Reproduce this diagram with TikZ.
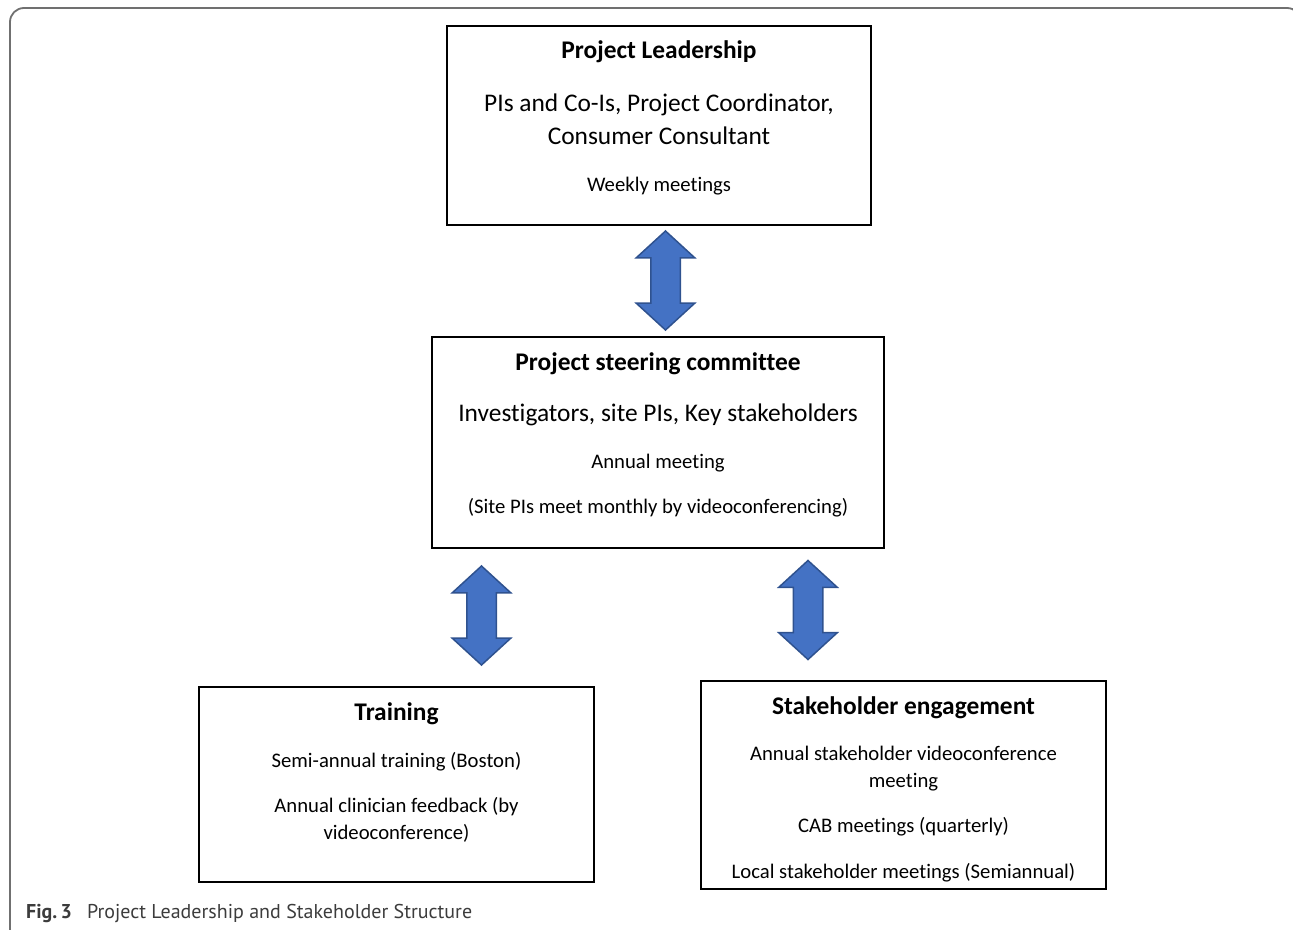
\documentclass[tikz,border=0pt]{standalone}
\usepackage{fontspec}
\setmainfont{Carlito}[Ligatures=NoCommon]
\newfontfamily\capfont{PT Sans}
\usepackage{xcolor}
\usepackage{tikz}
\usetikzlibrary{shapes,arrows,positioning,calc,arrows.meta}

\definecolor{arrowblue}{HTML}{4472C4}
\definecolor{arrowedge}{HTML}{2F528F}
\definecolor{framegray}{HTML}{707070}
\definecolor{capgray}{HTML}{3C3C3C}

\tikzset{
  box/.style={draw=black, line width=1.5pt, fill=none, inner sep=0pt},
  boxtitle/.style={anchor=base, font=\fontsize{25.4}{30}\selectfont\bfseries},
  bigline/.style={anchor=base, font=\fontsize{25.4}{30}\selectfont},
  smallline/.style={anchor=base, font=\fontsize{20.7}{24}\selectfont},
  linkarrow/.style={double arrow, shape border rotate=90, fill=arrowblue, draw=arrowedge,
    line width=1.5pt, inner sep=14pt, minimum height=99pt, minimum width=57pt,
    double arrow head extend=14.5pt, double arrow tip angle=95},
}

\begin{document}
\begin{tikzpicture}[x=1pt, y=-1pt]
  \useasboundingbox (0,0) rectangle (1293,929);
  \draw[framegray, line width=1.8pt, rounded corners=14pt] (10,8) rectangle (1301,943);

  % Boxes
  \node[box, minimum width=424pt, minimum height=199pt] (lead) at (659,125.5) {};
  \node[box, minimum width=452pt, minimum height=211pt] (steer) at (658,442.5) {};
  \node[box, minimum width=395pt, minimum height=195pt] (train) at (396.5,784.5) {};
  \node[box, minimum width=405pt, minimum height=208pt] (stake) at (903.5,785) {};

  \node[boxtitle] (lead-t) at (659,58) {Project Leadership};
  \node[bigline] (lead-a) at (659,111) {PIs and Co-Is, Project Coordinator,};
  \node[bigline] (lead-b) at (659,144) {Consumer Consultant};
  \node[smallline] (lead-c) at (659,191) {Weekly meetings};

  \node[boxtitle] (steer-t) at (658,370) {Project steering committee};
  \node[bigline] (steer-a) at (658,421) {Investigators, site PIs, Key stakeholders};
  \node[smallline] (steer-b) at (658,468) {Annual meeting};
  \node[smallline] (steer-c) at (658,513) {(Site PIs meet monthly by videoconferencing)};

  \node[boxtitle] (train-t) at (396.5,720) {Training};
  \node[smallline] (train-a) at (396.5,767) {Semi-annual training (Boston)};
  \node[smallline] (train-b) at (396.5,812) {Annual clinician feedback (by};
  \node[smallline] (train-c) at (396.5,839) {videoconference)};

  \node[boxtitle] (stake-t) at (903.5,714) {Stakeholder engagement};
  \node[smallline] (stake-a) at (903.5,760) {Annual stakeholder videoconference};
  \node[smallline] (stake-b) at (903.5,787) {meeting};
  \node[smallline] (stake-c) at (903.5,832) {CAB meetings (quarterly)};
  \node[smallline] (stake-d) at (903.5,878) {Local stakeholder meetings (Semiannual)};

  % Links
  \node[linkarrow] (lead-steer) at (665.5,280.5) {};
  \node[linkarrow] (steer-train) at (481.5,615.5) {};
  \node[linkarrow] (steer-stake) at (808,610) {};

  % Caption
  \node[anchor=base west, font=\capfont\fontsize{20}{24}\selectfont, text=capgray, inner sep=0pt]
    (caption) at (26,918) {\textbf{Fig.\,3}\hspace{15pt}Project Leadership and Stakeholder Structure};
\end{tikzpicture}
\end{document}
